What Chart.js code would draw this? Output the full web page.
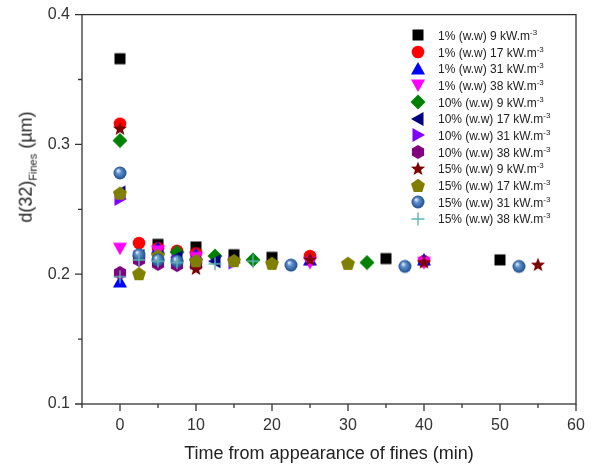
<!DOCTYPE html>
<html>
<head>
<meta charset="utf-8">
<script src="https://cdn.jsdelivr.net/npm/chart.js@4/dist/chart.umd.min.js"></script>
<style>
  body { margin: 0; background: #fff; }
  #wrap { position: relative; width: 591px; height: 470px; font-family: "Liberation Sans", Arial, sans-serif; color: #222; }
  #ytitle { position: absolute; left: 27px; top: 167px; transform: translate(-50%, -50%) rotate(-90deg); font-size: 18px; white-space: nowrap; }
  #ytitle sub { font-size: 11px; }
  #xtitle { position: absolute; left: 329px; top: 453px; transform: translate(-50%, -50%); font-size: 18px; white-space: nowrap; }
  #legend { position: absolute; left: 410px; top: 27px; font-size: 12px; }
  #legend .row { height: 16.7px; display: flex; align-items: center; white-space: nowrap; }
  #legend img { width: 16px; height: 16px; margin-right: 12px; }
  #legend sup { font-size: 8px; vertical-align: 5px; }
</style>
</head>
<body>
<div id="wrap">
  <canvas id="myChart" width="591" height="470"></canvas>
  <div id="ytitle">d(32)<sub>Fines</sub> (µm)</div>
  <div id="xtitle">Time from appearance of fines (min)</div>
  <div id="legend"></div>
</div>
<script>
// time (min) and d(32) of fines for each run
var t1_9 = [0, 5, 10, 15, 20, 35, 50];
var d1_9 = [0.366, 0.223, 0.221, 0.215, 0.213, 0.212, 0.211];
var t1_17 = [0, 2.5, 5, 7.5, 10, 25, 40];
var d1_17 = [0.316, 0.224, 0.220, 0.218, 0.216, 0.214, 0.210];
var t1_31 = [0, 5, 10, 25, 40];
var d1_31 = [0.194, 0.220, 0.215, 0.211, 0.211];
var t1_38 = [0, 5, 10, 25, 40];
var d1_38 = [0.220, 0.218, 0.213, 0.209, 0.209];
var t10_9 = [0, 7.5, 12.5, 17.5, 32.5];
var d10_9 = [0.303, 0.217, 0.214, 0.211, 0.209];
var t10_17 = [0, 2.5, 7.5, 12.5];
var d10_17 = [0.263, 0.214, 0.213, 0.210];
var t10_31 = [0, 2.5, 5, 7.5, 10, 15];
var d10_31 = [0.258, 0.213, 0.211, 0.210, 0.209, 0.209];
var t10_38 = [0, 2.5, 5, 7.5, 10];
var d10_38 = [0.201, 0.211, 0.208, 0.207, 0.207];
var t15_9 = [0, 10, 25, 40, 55];
var d15_9 = [0.312, 0.204, 0.211, 0.209, 0.207];
var t15_17 = [0, 2.5, 5, 10, 15, 20, 30];
var d15_17 = [0.262, 0.200, 0.214, 0.210, 0.210, 0.208, 0.208];
var t15_31 = [0, 2.5, 5, 7.5, 22.5, 37.5, 52.5];
var d15_31 = [0.278, 0.215, 0.211, 0.210, 0.207, 0.206, 0.206];
var t15_38 = [0, 2.5, 5, 7.5, 12.5, 17.5];
var d15_38 = [0.198, 0.211, 0.210, 0.209, 0.208, 0.210];

var seriesNames = ['1% (w.w) 9', '1% (w.w) 17', '1% (w.w) 31', '1% (w.w) 38',
                   '10% (w.w) 9', '10% (w.w) 17', '10% (w.w) 31', '10% (w.w) 38',
                   '15% (w.w) 9', '15% (w.w) 17', '15% (w.w) 31', '15% (w.w) 38'];
var xTickValues = [0, 10, 20, 30, 40, 50, 60];
var xMinorValues = [-5, 5, 15, 25, 35, 45, 55];
var yTickValues = [0.1, 0.2, 0.3, 0.4];
var yMinorValues = [0.15, 0.25, 0.35];

var times = [t1_9, t1_17, t1_31, t1_38, t10_9, t10_17, t10_31, t10_38, t15_9, t15_17, t15_31, t15_38];
var values = [d1_9, d1_17, d1_31, d1_38, d10_9, d10_17, d10_31, d10_38, d15_9, d15_17, d15_31, d15_38];

// marker images
function marker(draw) {
  var c = document.createElement('canvas');
  c.width = 16; c.height = 16;
  var g = c.getContext('2d');
  g.translate(8, 8);
  draw(g);
  return c;
}
function poly(g, pts, col) {
  g.beginPath();
  g.moveTo(pts[0][0], pts[0][1]);
  for (var i = 1; i < pts.length; i++) g.lineTo(pts[i][0], pts[i][1]);
  g.closePath();
  g.fillStyle = col;
  g.fill();
}
function ngon(n, r, rot) {
  var p = [];
  for (var i = 0; i < n; i++) {
    var a = rot + i * 2 * Math.PI / n;
    p.push([r * Math.cos(a), r * Math.sin(a)]);
  }
  return p;
}

var markers = [
  marker(function (g) { g.fillStyle = '#000'; g.fillRect(-5.5, -5.5, 11, 11); }),
  marker(function (g) { g.beginPath(); g.arc(0, 0, 6.3, 0, Math.PI * 2); g.fillStyle = '#ff0000'; g.fill(); }),
  marker(function (g) { poly(g, [[0, -7], [7, 5.5], [-7, 5.5]], '#0000ff'); }),
  marker(function (g) { poly(g, [[0, 7], [7, -5.5], [-7, -5.5]], '#ff00ff'); }),
  marker(function (g) { poly(g, [[0, -7.5], [7.5, 0], [0, 7.5], [-7.5, 0]], '#008000'); }),
  marker(function (g) { poly(g, [[-7, 0], [5.5, -7], [5.5, 7]], '#000080'); }),
  marker(function (g) { poly(g, [[7, 0], [-5.5, -7], [-5.5, 7]], '#8000ff'); }),
  marker(function (g) { poly(g, ngon(6, 7, -Math.PI / 2), '#800080'); }),
  marker(function (g) {
    var p = [];
    for (var i = 0; i < 10; i++) {
      var r = i % 2 ? 3.2 : 7.5;
      var a = -Math.PI / 2 + i * Math.PI / 5;
      p.push([r * Math.cos(a), r * Math.sin(a)]);
    }
    poly(g, p, '#800000');
  }),
  marker(function (g) { poly(g, ngon(5, 7.3, -Math.PI / 2), '#808000'); }),
  marker(function (g) {
    var grd = g.createRadialGradient(-2, -2.5, 0.5, 0, 0, 6.5);
    grd.addColorStop(0, '#d8e8fa');
    grd.addColorStop(0.35, '#5d8fcc');
    grd.addColorStop(1, '#1f4e8c');
    g.beginPath(); g.arc(0, 0, 6.5, 0, Math.PI * 2); g.fillStyle = grd; g.fill();
  }),
  marker(function (g) {
    g.strokeStyle = '#5fb4b4'; g.lineWidth = 1.4;
    g.beginPath(); g.moveTo(-6.5, 0); g.lineTo(6.5, 0); g.moveTo(0, -6.5); g.lineTo(0, 6.5); g.stroke();
  })
];

var datasets = [];
for (var i = 0; i < seriesNames.length; i++) {
  var pts = [];
  for (var j = 0; j < times[i].length; j++) pts.push({ x: times[i][j], y: values[i][j] });
  datasets.push({
    label: seriesNames[i] + ' kW.m-3',
    data: pts,
    pointStyle: markers[i],
    pointRadius: 7,
    pointHoverRadius: 7,
    order: seriesNames.length - i
  });
}

// legend with superscript units
var legendBox = document.getElementById('legend');
for (var k = 0; k < seriesNames.length; k++) {
  var row = document.createElement('div');
  row.className = 'row';
  var img = document.createElement('img');
  img.src = markers[k].toDataURL();
  row.appendChild(img);
  var txt = document.createElement('span');
  txt.innerHTML = seriesNames[k] + ' kW.m<sup>-3</sup>';
  row.appendChild(txt);
  legendBox.appendChild(row);
}

// frame plus outward major/minor ticks
var framePlugin = {
  id: 'frame',
  afterDraw: function (chart) {
    var ctx = chart.ctx, a = chart.chartArea;
    var xs = chart.scales.x, ys = chart.scales.y;
    ctx.save();
    ctx.strokeStyle = '#333';
    ctx.lineWidth = 1.3;
    ctx.strokeRect(a.left, a.top, a.right - a.left, a.bottom - a.top);
    ctx.beginPath();
    xTickValues.forEach(function (v) { var p = xs.getPixelForValue(v); ctx.moveTo(p, a.bottom); ctx.lineTo(p, a.bottom + 7); });
    xMinorValues.forEach(function (v) { var p = xs.getPixelForValue(v); ctx.moveTo(p, a.bottom); ctx.lineTo(p, a.bottom + 4); });
    yTickValues.forEach(function (v) { var p = ys.getPixelForValue(v); ctx.moveTo(a.left, p); ctx.lineTo(a.left - 7, p); });
    yMinorValues.forEach(function (v) { var p = ys.getPixelForValue(v); ctx.moveTo(a.left, p); ctx.lineTo(a.left - 4, p); });
    ctx.stroke();
    ctx.restore();
  }
};

Chart.defaults.font.family = '"Liberation Sans", Arial, sans-serif';
Chart.defaults.color = '#333';

var myChart = new Chart(document.getElementById('myChart'), {
  type: 'scatter',
  data: { datasets: datasets },
  options: {
    responsive: false,
    animation: false,
    devicePixelRatio: 1,
    layout: { padding: { left: 0, top: 12, right: 15, bottom: 0 } },
    plugins: { legend: { display: false }, tooltip: { enabled: false } },
    scales: {
      x: {
        type: 'linear', min: -5, max: 60,
        afterBuildTicks: function (s) { s.ticks = xTickValues.map(function (v) { return { value: v }; }); },
        afterFit: function (s) { s.height = 66; },
        grid: { display: false, drawTicks: true, tickLength: 7 },
        border: { display: false },
        ticks: { font: { size: 16 }, padding: 5, maxRotation: 0, autoSkip: false }
      },
      y: {
        type: 'linear', min: 0.1, max: 0.4,
        afterBuildTicks: function (s) { s.ticks = yTickValues.map(function (v) { return { value: v }; }); },
        afterFit: function (s) { s.width = 82; },
        grid: { display: false, drawTicks: true, tickLength: 7 },
        border: { display: false },
        ticks: { font: { size: 16 }, padding: 5, autoSkip: false,
          callback: function (v) { return v.toFixed(1); } }
      }
    }
  },
  plugins: [framePlugin]
});
</script>
</body>
</html>
